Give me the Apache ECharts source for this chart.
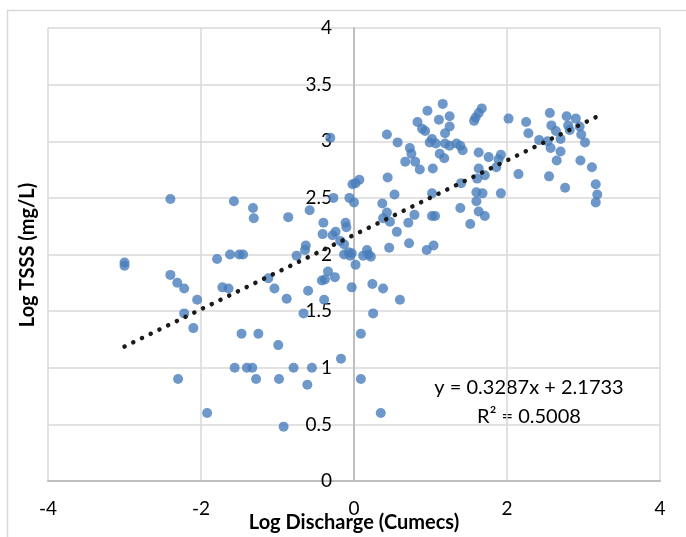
<!DOCTYPE html>
<html>
<head>
<meta charset="utf-8">
<script src="https://cdn.jsdelivr.net/npm/echarts@6/dist/echarts.min.js"></script>
<style>
  html, body { margin: 0; padding: 0; background: #fff; }
  #main { width: 686px; height: 537px; }
</style>
</head>
<body>
<div id="main"></div>
<script>
// 数据
var logDischarge = [
  -2.40, -1.57, -3.00, -3.00, -2.40, -2.31, -2.22, -2.05, -1.79, -1.62,
  -1.50, -1.45, -1.72, -1.64, -2.22, -2.10, -1.47, -2.30, -1.56, -1.92,
  -1.25, -0.99, -1.40, -1.33, -1.28, -0.98, -0.79, -0.55, -0.61, -0.92,
  -0.17, 0.09, 0.09, 0.35, 0.25, -0.66, -0.88, -0.39, 0.60, -1.32,
  -1.31, -0.86, -0.58, -0.27, -0.06, 0.00, -0.02, 0.02, 0.07, 0.44,
  0.53, 0.37, 0.43, 0.38, 0.47, 0.56, 0.46, -0.40, -0.11, -0.10,
  -0.41, -0.28, -0.24, -0.18, -0.13, -0.63, -0.64, -0.75, -0.13, -0.07,
  -0.05, 0.17, 0.19, 0.12, 0.22, 0.02, -0.34, -0.42, -0.38, -0.25,
  -1.12, -1.04, -0.60, -0.03, 0.24, 0.38, -0.31, 1.16, 0.96, 1.11,
  1.25, 1.25, 0.83, 0.89, 0.93, 1.19, 0.43, 1.02, 0.99, 1.07,
  1.19, 1.25, 1.34, 1.39, 1.42, 0.57, 0.73, 0.75, 0.67, 0.80,
  0.86, 1.12, 1.18, 1.03, 1.63, 1.76, 1.92, 1.89, 1.86, 1.63,
  1.61, 1.71, 2.15, 2.02, 2.25, 2.28, 1.59, 1.63, 1.67, 1.57,
  1.02, 1.40, 1.39, 1.52, 1.60, 1.68, 1.60, 1.63, 1.71, 1.92,
  0.79, 0.71, 1.02, 1.06, 0.72, 0.95, 1.04, 2.56, 2.58, 2.64,
  2.70, 2.78, 2.90, 2.80, 2.82, 2.95, 2.97, 3.02, 2.42, 2.53,
  2.57, 2.70, 2.65, 2.96, 3.11, 2.55, 2.76, 3.16, 3.18, 3.16,
  -0.03
];
var logTSSS = [
  2.49, 2.47, 1.93, 1.90, 1.82, 1.75, 1.70, 1.60, 1.96, 2.00,
  2.00, 2.00, 1.71, 1.70, 1.48, 1.35, 1.30, 0.90, 1.00, 0.60,
  1.30, 1.20, 1.00, 1.00, 0.90, 0.90, 1.00, 1.00, 0.85, 0.48,
  1.08, 1.30, 0.90, 0.60, 1.48, 1.48, 1.61, 1.60, 1.60, 2.41,
  2.32, 2.33, 2.39, 2.50, 2.50, 2.46, 2.62, 2.63, 2.66, 2.68,
  2.53, 2.45, 2.37, 2.32, 2.29, 2.20, 2.06, 2.28, 2.28, 2.24,
  2.18, 2.17, 2.20, 2.12, 2.09, 2.08, 2.04, 1.99, 2.00, 2.02,
  1.99, 2.04, 2.00, 1.99, 1.98, 1.91, 1.85, 1.77, 1.78, 1.80,
  1.79, 1.70, 1.68, 1.71, 1.74, 1.70, 3.03, 3.33, 3.27, 3.19,
  3.22, 3.13, 3.17, 3.11, 3.09, 3.07, 3.06, 3.02, 2.99, 2.98,
  2.98, 2.96, 2.98, 2.96, 2.92, 2.99, 2.94, 2.89, 2.82, 2.82,
  2.75, 2.89, 2.85, 2.76, 2.90, 2.86, 2.88, 2.84, 2.77, 2.76,
  2.67, 2.70, 2.71, 3.20, 3.17, 3.07, 3.21, 3.25, 3.29, 3.18,
  2.54, 2.63, 2.41, 2.27, 2.55, 2.54, 2.47, 2.38, 2.34, 2.54,
  2.35, 2.28, 2.34, 2.34, 2.10, 2.04, 2.08, 3.25, 3.14, 3.09,
  3.02, 3.22, 3.20, 3.14, 3.10, 3.13, 3.06, 2.99, 3.01, 3.00,
  2.94, 2.91, 2.83, 2.83, 2.77, 2.69, 2.59, 2.62, 2.53, 2.46,
  2.01
];
// 趋势线 (图上给出的公式)
var slope = 0.3287;
var intercept = 2.1733;
var rSquared = 0.5008;
var xTicks = { min: -4, max: 4, step: 2 };
var yTicks = { min: 0, max: 4, step: 0.5 };

var chart = echarts.init(document.getElementById('main'));

var points = logDischarge.map(function (x, i) { return [x, logTSSS[i]]; });
var xLo = Math.min.apply(null, logDischarge);
var xHi = Math.max.apply(null, logDischarge);
var trend = [[xLo, slope * xLo + intercept], [xHi, slope * xHi + intercept]];

var font = 'Lato, "Open Sans", sans-serif';
var gridL = 48, gridR = 26;
// y轴放在 x=0 处 (连同刻度标签一起)
var plotW = 686 - gridL - gridR;
var yAxisShift = plotW * (0 - xTicks.min) / (xTicks.max - xTicks.min);

var option = {
  animation: false,
  grid: { left: gridL, right: gridR, top: 28, bottom: 56, outerBoundsMode: 'none', containLabel: false },
  xAxis: {
    type: 'value',
    min: xTicks.min, max: xTicks.max, interval: xTicks.step,
    name: 'Log Discharge (Cumecs)',
    nameLocation: 'middle',
    nameGap: 32,
    nameMoveOverlap: false,
    nameTextStyle: { fontFamily: font, fontWeight: 'bold', fontSize: 20, color: '#000' },
    axisLine: { onZero: false, lineStyle: { color: '#bfbfbf', width: 2 } },
    axisTick: { show: false },
    axisLabel: { fontFamily: font, fontSize: 19, color: '#000', margin: 18 },
    splitLine: { lineStyle: { color: '#d9d9d9', width: 1.5 } }
  },
  yAxis: {
    type: 'value',
    min: yTicks.min, max: yTicks.max, interval: yTicks.step,
    offset: -yAxisShift,
    axisLine: { show: true, onZero: false, lineStyle: { color: '#bfbfbf', width: 2 } },
    axisTick: { show: false },
    axisLabel: { fontFamily: font, fontSize: 19, color: '#000', margin: 22 },
    splitLine: { lineStyle: { color: '#d9d9d9', width: 1.5 } }
  },
  graphic: [
    {
      type: 'rect', silent: true, z: -1,
      shape: { x: 7.5, y: 10.5, width: 700, height: 560 },
      style: { fill: null, stroke: '#d9d9d9', lineWidth: 1.5 }
    },
    {
      type: 'text', x: 28, y: 255, rotation: Math.PI / 2,
      style: {
        text: 'Log TSSS (mg/L)', font: 'bold 20px ' + font,
        fill: '#000', textAlign: 'center', textVerticalAlign: 'middle'
      }
    },
    {
      type: 'text', x: 529, y: 388,
      style: {
        text: 'y = ' + slope + 'x + ' + intercept, font: '20px ' + font,
        fill: '#000', textAlign: 'center', textVerticalAlign: 'middle'
      }
    },
    {
      type: 'text', x: 529, y: 417,
      style: {
        text: 'R² = ' + rSquared.toFixed(4), font: '20px ' + font,
        fill: '#000', textAlign: 'center', textVerticalAlign: 'middle'
      }
    }
  ],
  series: [
    {
      type: 'scatter',
      data: points,
      symbolSize: 10,
      itemStyle: { color: '#4a7ebb' }
    },
    {
      type: 'line',
      data: trend,
      symbol: 'none',
      z: 3,
      lineStyle: { color: '#1a1a1a', width: 4.5, type: [0.1, 9.6], cap: 'round' }
    }
  ]
};

chart.setOption(option);
</script>
</body>
</html>
